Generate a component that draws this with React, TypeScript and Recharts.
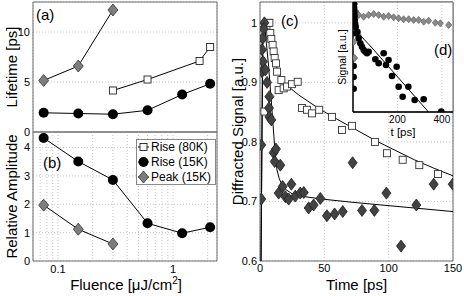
import React from 'react';
import { ComposedChart, Scatter, XAxis, YAxis, CartesianGrid, ReferenceArea, Legend } from 'recharts';

// ---------- Panels (a) and (b): fluence dependence ----------
const fluenceRise80K = [0.3, 0.6, 1.7, 2.1];
const lifetimeRise80K = [4.15, 5.25, 7.1, 8.5];
const fluenceRise15K = [0.075, 0.15, 0.3, 0.6, 1.2, 2.1];
const lifetimeRise15K = [1.92, 1.85, 1.78, 2.17, 3.75, 4.82];
const amplitudeRise15K = [4.34, 3.51, 2.86, 1.33, 0.98, 1.19];
const fluencePeak15K = [0.075, 0.15, 0.3];
const lifetimePeak15K = [5.15, 6.6, 12.2];
const amplitudePeak15K = [1.97, 1.12, 0.6];

const fluenceTicks = [0.07, 0.08, 0.09, 0.1, 0.2, 0.3, 0.4, 0.5, 0.6, 0.7, 0.8, 0.9, 1, 2];
const fluenceLabeled = [0.1, 1];
const lifetimeTicks = [0, 5, 10];
const amplitudeTicks = [0, 1, 2, 3, 4];
const legendLabels = ['Rise (80K)', 'Rise (15K)', 'Peak (15K)'];

// ---------- Panel (c): diffracted signal vs time ----------
const timeRise80K = [3.4, 5, 6.5, 7.3, 8, 8.8, 9.8, 10.6, 11.4, 12.4, 13.2, 14.5, 16.6, 18.4, 21, 24.9, 29.3, 32.6, 36.5, 40.4, 46, 56, 63.7, 71.5, 89.4, 98.7, 110.9, 123.8, 138.3];
const signalRise80K = [0.851, 0.99, 1.0, 1.0, 0.983, 0.973, 0.963, 0.952, 0.941, 0.932, 0.918, 0.887, 0.904, 0.89, 0.893, 0.897, 0.901, 0.857, 0.854, 0.848, 0.854, 0.842, 0.82, 0.827, 0.8, 0.781, 0.77, 0.761, 0.746];
const timePeak15K = [1, 1, 1.55, 1.6, 2.1, 2.3, 3.4, 2.8, 4.1, 5.5, 7.3, 7, 7.3, 8.8, 10.6, 11.4, 12.4, 14.5, 15.8, 17.6, 19.7, 22.3, 24.4, 27.4, 31.3, 34, 37.8, 41.7, 46.9, 52, 58, 64.3, 72, 79.3, 88.9, 98.2, 109.6, 121.5, 135, 149.8];
const signalPeak15K = [0.795, 0.704, 0.955, 0.918, 0.974, 0.935, 1.0, 0.99, 0.921, 0.9, 0.876, 0.857, 0.842, 0.837, 0.782, 0.767, 0.788, 0.714, 0.761, 0.725, 0.708, 0.704, 0.729, 0.709, 0.714, 0.715, 0.689, 0.694, 0.705, 0.676, 0.679, 0.683, 0.765, 0.685, 0.685, 0.714, 0.625, 0.694, 0.729, 0.729];
const fitTimeRise80K = [0.8, 2.2, 4, 6, 8, 10, 12.5, 17, 22, 30, 45, 60, 75, 90, 105, 120, 135, 150];
const fitSignalRise80K = [0.6, 0.98, 1.0, 0.99, 0.972, 0.95, 0.928, 0.904, 0.893, 0.879, 0.857, 0.838, 0.82, 0.802, 0.786, 0.77, 0.756, 0.743];
const fitTimePeak15K = [0.8, 2, 3.5, 5, 6.7, 9.3, 11.4, 13.2, 15, 17.1, 20, 24.9, 35, 48.2, 70, 94.8, 120, 150];
const fitSignalPeak15K = [0.6, 0.97, 1.0, 0.965, 0.927, 0.854, 0.792, 0.753, 0.738, 0.728, 0.72, 0.713, 0.708, 0.704, 0.699, 0.694, 0.689, 0.683];
const timeTicks = [0, 50, 100, 150];
const signalTicks = [0.6, 0.7, 0.8, 0.9, 1];

// ---------- Inset (d): long time scale ----------
const insetTimePeak = [3, 7.5, 4, 8, 12, 16, 25.5, 48, 70.5, 93, 115.5, 138, 160.5, 183, 205.5, 228, 250.5, 273, 295.5, 318, 340.5, 370.5, 393, 430.5];
const insetSignalPeak = [70, 54, 104, 108, 101, 98, 97, 95.3, 97, 98, 97, 95.3, 96, 94.7, 93.7, 92.7, 92.7, 92, 92, 90.3, 91.3, 89.3, 88.7, 87];
const insetTimeRise = [3, 3, 3, 4, 5, 6, 7, 8, 10, 12, 13.5, 20, 25.5, 33, 40.5, 48, 55.5, 63, 70.5, 100.5, 115.5, 138, 148.5, 160, 175.5, 196.5, 205.5, 223.5, 249, 277.5, 318, 397.5];
const insetSignalRise = [46, 35, 23.3, 108, 104, 100, 96, 92, 88, 85, 78.7, 80, 73.7, 68.7, 65.3, 62, 60.3, 58.7, 60.3, 52.7, 48.7, 58.7, 47, 52, 36, 45.3, 25.3, 15.3, 25.3, 12, 12.7, 0.5];
const insetFitTime = [2, 5, 10, 20, 40, 82, 340];
const insetFitSignal = [110, 98, 88, 81, 75, 65, 0];
const insetTimeTicks = [200, 400];
const insetSignalGrid = [26.5, 53, 79.5, 106];

const pts = (xs: number[], ys: number[]) => xs.map((x, i) => ({ x, y: ys[i] }));

const W = 464;
const H = 296;
const FONT = '"Liberation Sans", Arial, Helvetica, sans-serif';
const FRAME = '#6a6a6a';
const GRID = '#c6c6c6';

const Square = (s: number, stroke: string) => (p: any) =>
  p.cx == null ? <g /> : <rect x={p.cx - s / 2} y={p.cy - s / 2} width={s} height={s} fill="#fff" stroke={stroke} strokeWidth={0.9} />;
const Dot = (r: number) => (p: any) => (p.cx == null ? <g /> : <circle cx={p.cx} cy={p.cy} r={r} fill="#000" />);
const Diamond = (w: number, h: number, fill: string, stroke: string) => (p: any) =>
  p.cx == null ? <g /> : (
    <polygon
      points={`${p.cx},${p.cy - h / 2} ${p.cx + w / 2},${p.cy} ${p.cx},${p.cy + h / 2} ${p.cx - w / 2},${p.cy}`}
      fill={fill}
      stroke={stroke}
      strokeWidth={0.8}
    />
  );
const Empty = () => <g />;

const squareAB = Square(7, '#222');
const dotAB = Dot(5);
const diamondAB = Diamond(10, 12, '#7d7d7d', '#333');
const squareC = Square(7, '#333');
const diamondC = Diamond(9, 12, '#424242', '#1e1e1e');
const diamondD = Diamond(6, 7, '#8a8a8a', '#666');
const dotD = Dot(3.3);

const lineStyle = { stroke: '#000', strokeWidth: 1 };

const LegendBox = () => {
  const markers = [squareAB, dotAB, diamondAB];
  return (
    <svg width={80} height={46} style={{ display: 'block' }}>
      <rect x={0.5} y={0.5} width={79} height={45} fill="#fff" stroke="#888" />
      {legendLabels.map((lab, i) => {
        const cy = 8 + i * 15;
        const M = markers[i];
        return (
          <g key={lab}>
            <line x1={2} x2={13} y1={cy} y2={cy} stroke="#000" />
            {M({ cx: 7.5, cy })}
            <text x={15} y={cy + 4.2} fontSize={12} fill="#000" fontFamily={FONT}>
              {lab}
            </text>
          </g>
        );
      })}
    </svg>
  );
};

const fluenceFmt = (v: number) => (fluenceLabeled.includes(v) ? String(v) : '');

function PanelA() {
  return (
    <ComposedChart width={W} height={H} margin={{ top: 2, right: 247, bottom: 164, left: 0 }}>
      <CartesianGrid strokeDasharray="1 2" stroke={GRID} />
      <XAxis type="number" dataKey="x" scale="log" domain={[0.0606, 2.41]} allowDataOverflow ticks={fluenceTicks} interval={0} tick={false} tickLine={false} axisLine={false} height={0} />
      <YAxis
        type="number"
        dataKey="y"
        domain={[0, 13]}
        allowDataOverflow
        ticks={lifetimeTicks}
        interval={0}
        width={33}
        tickLine={false}
        tickSize={0}
        tickMargin={3}
        axisLine={false}
        tick={{ fill: '#000', fontSize: 11 }}
        label={{ value: 'Lifetime [ps]', angle: -90, position: 'insideLeft', offset: 12, fontSize: 15, fill: '#000', style: { textAnchor: 'middle' } }}
      />
      <ReferenceArea x1={0.0606} x2={2.41} y1={0} y2={13} fill="none" stroke={FRAME} ifOverflow="visible" />
      <Scatter data={pts(fluencePeak15K, lifetimePeak15K)} dataKey="y" line={lineStyle} lineType="joint" shape={diamondAB} isAnimationActive={false} />
      <Scatter data={pts(fluenceRise80K, lifetimeRise80K)} dataKey="y" line={lineStyle} lineType="joint" shape={squareAB} isAnimationActive={false} />
      <Scatter data={pts(fluenceRise15K, lifetimeRise15K)} dataKey="y" line={lineStyle} lineType="joint" shape={dotAB} isAnimationActive={false} />
    </ComposedChart>
  );
}

function PanelB() {
  return (
    <ComposedChart width={W} height={H} margin={{ top: 132, right: 247, bottom: 0, left: 0 }}>
      <CartesianGrid strokeDasharray="1 2" stroke={GRID} />
      <XAxis
        type="number"
        dataKey="x"
        scale="log"
        domain={[0.0606, 2.41]}
        allowDataOverflow
        ticks={fluenceTicks}
        interval={0}
        tickFormatter={fluenceFmt}
        tickLine={false}
        tickSize={0}
        tickMargin={4}
        axisLine={false}
        height={35}
        tick={{ fill: '#000', fontSize: 11 }}
      />
      <YAxis
        type="number"
        dataKey="y"
        domain={[0, 4.55]}
        allowDataOverflow
        ticks={amplitudeTicks}
        interval={0}
        width={33}
        tickLine={false}
        tickSize={0}
        tickMargin={3}
        axisLine={false}
        tick={{ fill: '#000', fontSize: 11 }}
        label={{ value: 'Relative Amplitude', angle: -90, position: 'insideLeft', offset: 12, fontSize: 15, fill: '#000', style: { textAnchor: 'middle' } }}
      />
      <ReferenceArea x1={0.0606} x2={2.41} y1={0} y2={4.55} fill="none" stroke={FRAME} ifOverflow="visible" />
      <Scatter data={pts(fluencePeak15K, amplitudePeak15K)} dataKey="y" line={lineStyle} lineType="joint" shape={diamondAB} isAnimationActive={false} />
      <Scatter data={pts(fluenceRise15K, amplitudeRise15K)} dataKey="y" line={lineStyle} lineType="joint" shape={dotAB} isAnimationActive={false} />
      <Legend
        layout="vertical"
        align="center"
        verticalAlign="middle"
        content={() => <LegendBox />}
        wrapperStyle={{ position: 'absolute', left: 136, top: 139, width: 80, height: 46 }}
      />
    </ComposedChart>
  );
}

function PanelC() {
  return (
    <ComposedChart width={W} height={H} margin={{ top: 2, right: 11, bottom: 0, left: 230 }}>
      <CartesianGrid strokeDasharray="1 2" stroke={GRID} />
      <XAxis
        type="number"
        dataKey="x"
        domain={[0, 150]}
        allowDataOverflow
        ticks={timeTicks}
        interval={0}
        tickLine={false}
        tickSize={0}
        tickMargin={3}
        axisLine={false}
        height={35}
        tick={{ fill: '#000', fontSize: 11 }}
      />
      <YAxis
        type="number"
        dataKey="y"
        domain={[0.6, 1.035]}
        allowDataOverflow
        ticks={signalTicks}
        interval={0}
        tickFormatter={(v: number) => (v === 1 ? '1' : v.toFixed(1))}
        width={30}
        tickLine={false}
        tickSize={0}
        tickMargin={3}
        axisLine={false}
        tick={{ fill: '#000', fontSize: 11 }}
        label={{ value: 'Diffracted Signal [a.u.]', angle: -90, position: 'insideLeft', offset: 8, fontSize: 15, fill: '#000', style: { textAnchor: 'middle' } }}
      />
      <ReferenceArea x1={0} x2={150} y1={0.6} y2={1.035} fill="none" stroke={FRAME} ifOverflow="visible" />
      <Scatter data={pts(fitTimeRise80K, fitSignalRise80K)} dataKey="y" line={lineStyle} lineType="joint" shape={Empty} isAnimationActive={false} />
      <Scatter data={pts(fitTimePeak15K, fitSignalPeak15K)} dataKey="y" line={lineStyle} lineType="joint" shape={Empty} isAnimationActive={false} />
      <Scatter data={pts(timeRise80K, signalRise80K)} dataKey="y" shape={squareC} isAnimationActive={false} />
      <Scatter data={pts(timePeak15K, signalPeak15K)} dataKey="y" shape={diamondC} isAnimationActive={false} />
    </ComposedChart>
  );
}

function PanelD() {
  return (
    <ComposedChart width={W} height={H} margin={{ top: 2, right: 11, bottom: 152, left: 333 }}>
      <CartesianGrid strokeDasharray="1 2" stroke={GRID} fill="#fff" fillOpacity={1} />
      <XAxis
        type="number"
        dataKey="x"
        domain={[0, 450]}
        allowDataOverflow
        ticks={insetTimeTicks}
        interval={0}
        tickLine={false}
        tickSize={0}
        tickMargin={4}
        axisLine={{ stroke: '#000', strokeWidth: 1.3 }}
        height={32}
        tick={{ fill: '#000', fontSize: 10 }}
      />
      <YAxis
        type="number"
        dataKey="y"
        domain={[0, 110]}
        allowDataOverflow
        ticks={insetSignalGrid}
        interval={0}
        width={20}
        tick={false}
        tickLine={false}
        axisLine={{ stroke: '#000', strokeWidth: 1.3 }}
        label={{ value: 'Signal [a.u.]', angle: -90, position: 'insideLeft', offset: 9, fontSize: 10.5, fill: '#000', style: { textAnchor: 'middle' } }}
      />
      <ReferenceArea x1={0} x2={450} y1={0} y2={110} fill="none" stroke={FRAME} ifOverflow="visible" />
      <Scatter data={pts(insetFitTime, insetFitSignal)} dataKey="y" line={lineStyle} lineType="joint" shape={Empty} isAnimationActive={false} />
      <Scatter data={pts(insetTimePeak, insetSignalPeak)} dataKey="y" shape={diamondD} isAnimationActive={false} />
      <Scatter data={pts(insetTimeRise, insetSignalRise)} dataKey="y" shape={dotD} isAnimationActive={false} />
    </ComposedChart>
  );
}

const layer: React.CSSProperties = { position: 'absolute', left: 0, top: 0, width: W, height: H };

export default function App() {
  return (
    <div style={{ position: 'absolute', left: 0, top: 0, width: W, height: H, background: '#fff', fontFamily: FONT, overflow: 'hidden' }}>
      <div style={layer}><PanelA /></div>
      <div style={layer}><PanelB /></div>
      <div style={layer}><PanelC /></div>
      <div style={layer}><PanelD /></div>
      <svg style={{ ...layer, pointerEvents: 'none' }} width={W} height={H} fontFamily={FONT}>
        <text x={36} y={20} fontSize={15} fill="#000">(a)</text>
        <text x={43} y={168} fontSize={15} fill="#000">(b)</text>
        <text x={281} y={26} fontSize={15} fill="#000">(c)</text>
        <text x={434} y={55} fontSize={15} fill="#000">(d)</text>
        <text x={126} y={290} fontSize={15} fill="#000" textAnchor="middle">
          Fluence [μJ/cm<tspan dy={-6} fontSize={10}>2</tspan><tspan dy={6}>]</tspan>
        </text>
        <text x={356.5} y={290} fontSize={15} fill="#000" textAnchor="middle">Time [ps]</text>
        <text x={403} y={136} fontSize={11.5} fill="#000" textAnchor="middle">t [ps]</text>
      </svg>
    </div>
  );
}
